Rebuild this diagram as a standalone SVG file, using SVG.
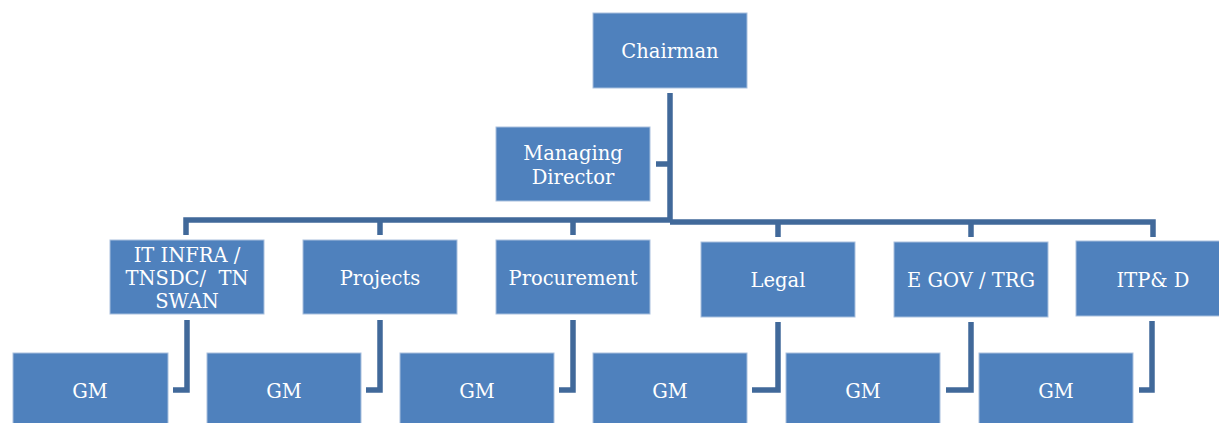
<svg xmlns="http://www.w3.org/2000/svg" width="1219" height="423" viewBox="0 0 1219 423">
<style>
.box{fill:#4f81bd;stroke:#a9c0de;stroke-width:1}
.t{font-family:"DejaVu Serif","Liberation Serif",serif;font-size:19.5px;fill:#ffffff;text-anchor:middle;white-space:pre}
.c{fill:none;stroke:#41699a;stroke-width:5.5;stroke-linejoin:miter}
</style>
<rect width="1219" height="423" fill="#ffffff"/>
<g id="connectors">
<path class="c" d="M670,93 V222"/>
<path class="c" d="M656,164 H670"/>
<path class="c" d="M186,235 V220 H670"/>
<path class="c" d="M670,222 H1153 V237"/>
<path class="c" d="M380,220 V235"/>
<path class="c" d="M573,220 V235"/>
<path class="c" d="M778,222 V237"/>
<path class="c" d="M971,222 V237"/>
<path class="c" d="M187,320 V390 H173"/>
<path class="c" d="M380,320 V390 H366"/>
<path class="c" d="M573,320 V390 H559"/>
<path class="c" d="M778,322 V390 H752"/>
<path class="c" d="M971,322 V390 H946"/>
<path class="c" d="M1152,321 V390 H1139"/>
</g>
<g id="chairman"><rect class="box" x="593" y="13" width="154" height="75"/><text class="t" x="670" y="58">Chairman</text></g>
<g id="md"><rect class="box" x="496" y="127" width="154" height="74"/><text class="t" x="573" y="160">Managing</text><text class="t" x="573" y="183.5">Director</text></g>
<g id="itinfra"><rect class="box" x="110" y="240" width="154" height="74"/><text class="t" x="187" y="262">IT INFRA /</text><text class="t" x="187" y="285">TNSDC/  TN</text><text class="t" x="187" y="308">SWAN</text></g>
<g id="projects"><rect class="box" x="303" y="240" width="154" height="74"/><text class="t" x="380" y="285">Projects</text></g>
<g id="procurement"><rect class="box" x="496" y="240" width="154" height="74"/><text class="t" x="573" y="285">Procurement</text></g>
<g id="legal"><rect class="box" x="701" y="242" width="154" height="75"/><text class="t" x="778" y="287">Legal</text></g>
<g id="egov"><rect class="box" x="894" y="242" width="154" height="75"/><text class="t" x="971" y="287">E GOV / TRG</text></g>
<g id="itpd"><rect class="box" x="1076" y="241" width="154" height="75"/><text class="t" x="1153" y="287">ITP&amp; D</text></g>
<g id="gm1"><rect class="box" x="13" y="353" width="155" height="75"/><text class="t" x="90" y="398">GM</text></g>
<g id="gm2"><rect class="box" x="207" y="353" width="154" height="75"/><text class="t" x="284" y="398">GM</text></g>
<g id="gm3"><rect class="box" x="400" y="353" width="154" height="75"/><text class="t" x="477" y="398">GM</text></g>
<g id="gm4"><rect class="box" x="593" y="353" width="154" height="75"/><text class="t" x="670" y="398">GM</text></g>
<g id="gm5"><rect class="box" x="786" y="353" width="154" height="75"/><text class="t" x="863" y="398">GM</text></g>
<g id="gm6"><rect class="box" x="979" y="353" width="154" height="75"/><text class="t" x="1056" y="398">GM</text></g>
</svg>
